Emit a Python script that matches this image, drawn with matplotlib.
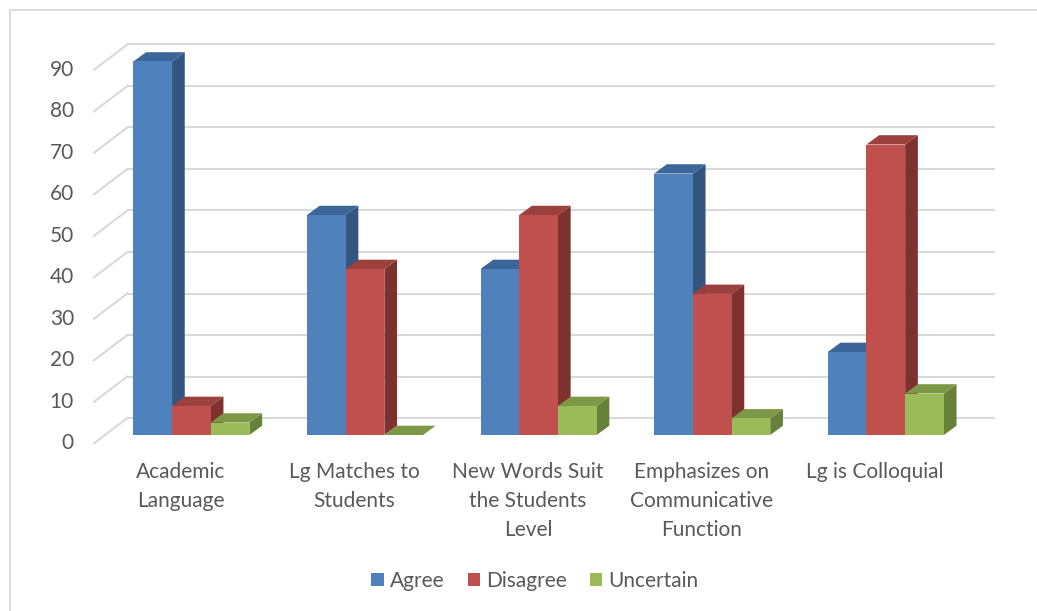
import matplotlib
matplotlib.use("Agg")
import matplotlib.pyplot as plt
from matplotlib.patches import Polygon, Patch, Rectangle
from matplotlib.lines import Line2D

# ---- data ----
categories = [
    "Academic\nLanguage",
    "Lg Matches to\nStudents",
    "New Words Suit\nthe Students\nLevel",
    "Emphasizes on\nCommunicative\nFunction",
    "Lg is Colloquial",
]
series = ["Agree", "Disagree", "Uncertain"]
agree = [90, 53, 40, 63, 20]
disagree = [7, 40, 53, 34, 70]
uncertain = [3, 0, 7, 4, 10]
y_ticks = [0, 10, 20, 30, 40, 50, 60, 70, 80, 90]

values = [agree, disagree, uncertain]
front_colors = ["#4F81BD", "#C0504D", "#9BBB59"]
top_colors = ["#3C659A", "#9C403D", "#7D9847"]
side_colors = ["#33557F", "#7E3230", "#67803A"]

plt.rcParams["font.family"] = ["Lato", "DejaVu Sans"]
TEXT = "#595959"
GRID = "#D9D9D9"
FS = 15

W, H, DPI = 1037, 611, 100
fig = plt.figure(figsize=(W / DPI, H / DPI), dpi=DPI)
ax = fig.add_axes([0, 0, 1, 1])

# scale of the front plane: one category = 173.6 px, 10 units = 41.5 px
px_x = 1 / 173.6
px_y = 10 / 41.5
ax.set_xlim(-191.4 * px_x, (W - 191.4) * px_x)
ax.set_ylim(-176 * px_y, (H - 176) * px_y)
ax.axis("off")

# oblique depth offsets
bar_dx, bar_dy = 12.7 * px_x, 9.3 * px_y       # depth of a bar
back_dx, back_dy = 22.8 * px_x, 17.0 * px_y    # bar front -> back wall
front_dx, front_dy = -10.6 * px_x, -8.3 * px_y  # bar front -> floor front
n = len(categories)
bw = 0.2229

# back wall gridlines and side wall diagonals
for t in y_ticks:
    ax.add_line(Line2D([-0.5 + back_dx, n - 0.5 + back_dx], [t + back_dy, t + back_dy],
                       color=GRID, lw=1.5, zorder=1, solid_capstyle="butt"))
    ax.add_line(Line2D([-0.5 + front_dx, -0.5 + back_dx], [t + front_dy, t + back_dy],
                       color=GRID, lw=1.5, zorder=1))
    ax.text(-0.5 + front_dx - 20 * px_x, t + front_dy, str(t), ha="right", va="center",
            fontsize=FS, color=TEXT)

# bars, drawn left to right so each one covers the side of its neighbour
z = 2
for i in range(n):
    for j in range(len(series)):
        v = values[j][i]
        x0 = i + (j - 1) * bw - bw / 2
        x1 = x0 + bw
        side = Polygon([(x1, 0), (x1 + bar_dx, bar_dy), (x1 + bar_dx, v + bar_dy), (x1, v)],
                       closed=True, facecolor=side_colors[j], edgecolor="none", zorder=z)
        top = Polygon([(x0, v), (x1, v), (x1 + bar_dx, v + bar_dy), (x0 + bar_dx, v + bar_dy)],
                      closed=True, facecolor=top_colors[j], edgecolor="none", zorder=z)
        ax.add_patch(side)
        ax.add_patch(top)
        ax.bar(x0, v, width=bw, align="edge", color=front_colors[j], edgecolor="none",
               zorder=z + 0.5)
        z += 1

# category labels
for i, lab in enumerate(categories):
    ax.text(i + front_dx, -27.5 * px_y, lab, ha="center", va="top", fontsize=FS,
            color=TEXT, linespacing=1.55)

# legend
handles = [Patch(facecolor=c, edgecolor="none") for c in front_colors]
fig.legend(handles, series, loc="center", bbox_to_anchor=(535 / W, 1 - 581 / H),
           ncol=3, frameon=False, fontsize=FS, labelcolor=TEXT,
           handlelength=0.6, handleheight=0.6, handletextpad=0.3, columnspacing=1.1)

# chart border
fig.patches.append(Rectangle((10 / W, -0.1), 1.2, 1 - 10.5 / H + 0.1,
                             transform=fig.transFigure, fill=False, edgecolor=GRID,
                             lw=1.3, zorder=0))

fig.savefig("out.png", dpi=DPI, facecolor="white")
